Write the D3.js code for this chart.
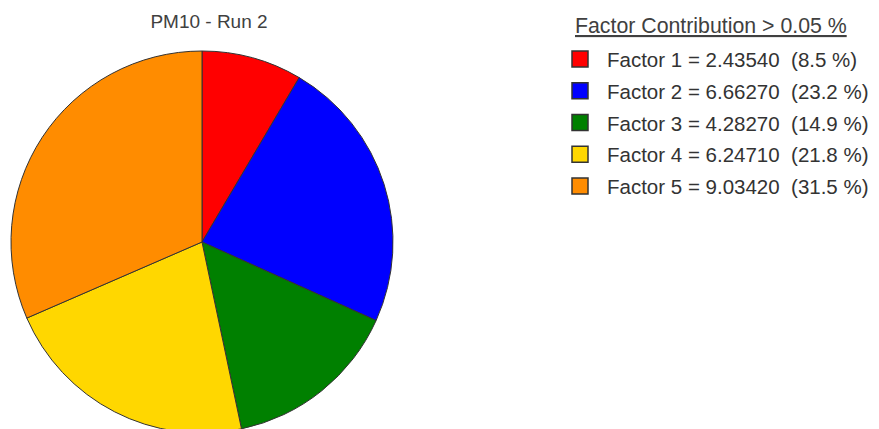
<!DOCTYPE html>
<html>
<head>
<meta charset="utf-8">
<script src="https://cdn.jsdelivr.net/npm/d3@7"></script>
<style>
  html, body { margin: 0; padding: 0; background: #fff; }
  svg { display: block; }
  text { font-family: Arial, "Liberation Sans", sans-serif; }
</style>
</head>
<body>
<svg id="chart" width="879" height="429"></svg>
<script>
const title = "PM10 - Run 2";
const legendTitle = "Factor Contribution > 0.05 %";
const factors = ["Factor 1", "Factor 2", "Factor 3", "Factor 4", "Factor 5"];
const values = [2.43540, 6.66270, 4.28270, 6.24710, 9.03420];
const colors = ["#FF0000", "#0000FF", "#008000", "#FFD700", "#FF8C00"];

const svg = d3.select("#chart");
const cx = 202, cy = 242, r = 191;
const total = d3.sum(values);

svg.append("text")
  .attr("x", 209).attr("y", 28)
  .attr("text-anchor", "middle")
  .attr("font-size", 19)
  .attr("fill", "#404040")
  .text(title);

const pie = d3.pie().sort(null).value(d => d.v);
const arc = d3.arc().innerRadius(0).outerRadius(r);
const data = factors.map((f, i) => ({ f, v: values[i], c: colors[i] }));

svg.append("g").attr("transform", `translate(${cx},${cy})`)
  .selectAll("path").data(pie(data)).join("path")
  .attr("d", arc)
  .attr("fill", d => d.data.c)
  .attr("stroke", "#333")
  .attr("stroke-width", 1);

const lg = svg.append("g");
lg.append("text")
  .attr("x", 575).attr("y", 33)
  .attr("font-size", 21.3)
  .attr("fill", "#404040")
  .attr("text-decoration", "underline")
  .text(legendTitle);

const y = d3.scalePoint().domain(factors).range([51, 178]);
const rows = lg.selectAll("g.row").data(data).join("g").attr("class", "row");
rows.append("rect")
  .attr("x", 572).attr("y", d => y(d.f))
  .attr("width", 16).attr("height", 16)
  .attr("fill", d => d.c)
  .attr("stroke", "#333").attr("stroke-width", 1.5);
rows.append("text")
  .attr("x", 607).attr("y", d => y(d.f) + 16)
  .attr("font-size", 20.5)
  .attr("fill", "#333")
  .style("white-space", "pre")
  .text(d => `${d.f} = ${d.v.toFixed(5)}  (${(d.v / total * 100).toFixed(1)} %)`);
</script>
</body>
</html>
